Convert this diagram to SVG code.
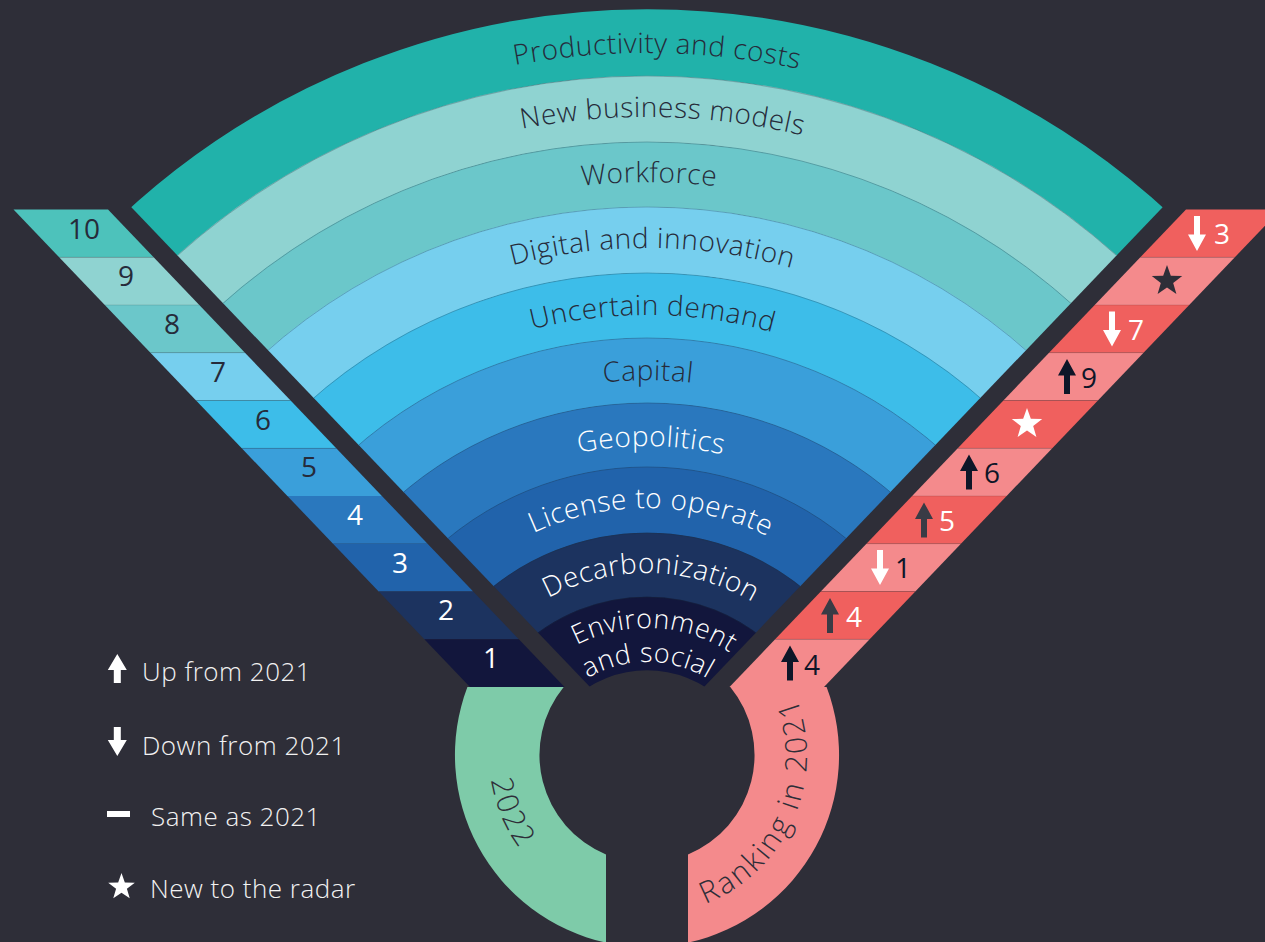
<svg xmlns="http://www.w3.org/2000/svg" xmlns:xlink="http://www.w3.org/1999/xlink" width="1265" height="942" viewBox="0 0 1265 942">
<style>
.lbl{font-family:"Open Sans","Noto Sans","Liberation Sans",sans-serif;font-size:28px;font-weight:300;letter-spacing:0.5px;text-anchor:middle}
.env{font-size:27px}
.ring{font-family:"Open Sans","Noto Sans","Liberation Sans",sans-serif;font-size:30px;font-weight:300;text-anchor:middle;fill:#2e2e38}
.dk{fill:#262b3a}
.wh{fill:#ffffff}
.num{font-family:"Open Sans","Noto Sans","Liberation Sans",sans-serif;font-size:28px;text-anchor:middle}
.leg{font-family:"Open Sans","Noto Sans","Liberation Sans",sans-serif;font-size:26px;font-weight:300;letter-spacing:0.5px;fill:#f2f2f2}
.band{fill:none}
.bline{fill:none;stroke:#1d3440;stroke-opacity:0.35;stroke-width:0.8}
.sep{stroke:#000;stroke-opacity:0.12;stroke-width:1}
.red{fill:#f0605e}
.pink{fill:#f48a8c}
</style>
<defs>
<clipPath id="fanClip"><polygon points="-114.6,-50 1408.6,-50 647,746.6"/></clipPath>
<path id="a727" d="M -80 780 A 727 727 0 0 1 1374 780"/>
<path id="a663" d="M -16 780 A 663 663 0 0 1 1310 780"/>
<path id="a598" d="M 49 780 A 598 598 0 0 1 1245 780"/>
<path id="a532" d="M 115 780 A 532 532 0 0 1 1179 780"/>
<path id="a465" d="M 182 780 A 465 465 0 0 1 1112 780"/>
<path id="a400" d="M 247 780 A 400 400 0 0 1 1047 780"/>
<path id="a334" d="M 313 780 A 334 334 0 0 1 981 780"/>
<path id="a272" d="M 375 780 A 272 272 0 0 1 919 780"/>
<path id="a207" d="M 440 780 A 207 207 0 0 1 854 780"/>
<path id="a152" d="M 495 780 A 152 152 0 0 1 799 780"/>
<path id="a118" d="M 529 780 A 118 118 0 0 1 765 780"/>
<path id="r2022" d="M 506.2 683.3 A 158 158 0 0 0 600.8 906.1"/>
<path id="rRank" d="M 688.4 909.5 A 160 160 0 0 0 788.3 679.9"/>
<path id="up" d="M0,-17.5 L9,-1 L3,-1 L3,17.5 L-3,17.5 L-3,-1 L-9,-1 Z"/>
<path id="lup" d="M0,-14.5 L9.5,1.5 L3.5,1.5 L3.5,14.5 L-3.5,14.5 L-3.5,1.5 L-9.5,1.5 Z"/>
<path id="star" d="M0,-16 L3.82,-5.26 L15.22,-4.94 L6.18,2.01 L9.4,12.94 L0,6.5 L-9.4,12.94 L-6.18,2.01 L-15.22,-4.94 L-3.82,-5.26 Z"/>
</defs>

<rect x="0" y="0" width="1265" height="942" fill="#2e2e38"/>

<!-- Fan bands -->
<g id="fan" clip-path="url(#fanClip)">
  <g id="band-productivity"><circle class="band" cx="647" cy="780" r="737.25" stroke="#21b2aa" stroke-width="67"/>
    <text class="lbl dk"><textPath href="#a727" startOffset="1152">Productivity and costs</textPath></text></g>
  <g id="band-business-models"><circle class="band" cx="647" cy="780" r="671" stroke="#8fd3d1" stroke-width="66.6"/>
    <text class="lbl dk"><textPath href="#a663" startOffset="1057">New business models</textPath></text></g>
  <g id="band-workforce"><circle class="band" cx="647" cy="780" r="605.5" stroke="#6bc7ca" stroke-width="65.6"/>
    <text class="lbl dk"><textPath href="#a598" startOffset="941">Workforce</textPath></text></g>
  <g id="band-digital"><circle class="band" cx="647" cy="780" r="540" stroke="#76cfee" stroke-width="66.6"/>
    <text class="lbl dk"><textPath href="#a532" startOffset="841">Digital and innovation</textPath></text></g>
  <g id="band-demand"><circle class="band" cx="647" cy="780" r="474.5" stroke="#3dbde9" stroke-width="65.6"/>
    <text class="lbl dk"><textPath href="#a465" startOffset="736">Uncertain demand</textPath></text></g>
  <g id="band-capital"><circle class="band" cx="647" cy="780" r="409.5" stroke="#3a9fda" stroke-width="65.6"/>
    <text class="lbl dk"><textPath href="#a400" startOffset="629">Capital</textPath></text></g>
  <g id="band-geopolitics"><circle class="band" cx="647" cy="780" r="345" stroke="#2a78be" stroke-width="64.6"/>
    <text class="lbl wh"><textPath href="#a334" startOffset="528.5">Geopolitics</textPath></text></g>
  <g id="band-license"><circle class="band" cx="647" cy="780" r="280" stroke="#2163ab" stroke-width="66.6"/>
    <text class="lbl wh"><textPath href="#a272" startOffset="431">License to operate</textPath></text></g>
  <g id="band-decarbonization"><circle class="band" cx="647" cy="780" r="215" stroke="#1c335f" stroke-width="64.6"/>
    <text class="lbl wh"><textPath href="#a207" startOffset="329">Decarbonization</textPath></text></g>
  <g id="band-environment"><circle class="band" cx="647" cy="780" r="146.5" stroke="#12163c" stroke-width="73.6"/>
    <text class="lbl env wh"><textPath href="#a152" startOffset="246">Environment</textPath></text>
    <text class="lbl env wh"><textPath href="#a118" startOffset="186">and social</textPath></text></g>
  <g id="band-lines">
    <circle class="bline" cx="647" cy="780" r="704"/>
    <circle class="bline" cx="647" cy="780" r="638"/>
    <circle class="bline" cx="647" cy="780" r="573"/>
    <circle class="bline" cx="647" cy="780" r="507"/>
    <circle class="bline" cx="647" cy="780" r="442"/>
    <circle class="bline" cx="647" cy="780" r="377"/>
    <circle class="bline" cx="647" cy="780" r="313"/>
    <circle class="bline" cx="647" cy="780" r="247"/>
    <circle class="bline" cx="647" cy="780" r="183"/>
  </g>
</g>

<!-- Left strip: 2022 ranks -->
<g id="rank-2022">
  <g id="r22-10"><polygon points="13.5,209.5 108,209.5 153.65,257.25 59.15,257.25" fill="#4dc2bb"/><text class="num dk" x="84" y="239">10</text></g>
  <g id="r22-9"><polygon points="59.15,257.25 153.65,257.25 199.3,305 104.8,305" fill="#8fd3d1"/><text class="num dk" x="126" y="286">9</text></g>
  <g id="r22-8"><polygon points="104.8,305 199.3,305 244.95,352.75 150.45,352.75" fill="#6bc7ca"/><text class="num dk" x="172" y="334">8</text></g>
  <g id="r22-7"><polygon points="150.45,352.75 244.95,352.75 290.6,400.5 196.1,400.5" fill="#76cfee"/><text class="num dk" x="218" y="382">7</text></g>
  <g id="r22-6"><polygon points="196.1,400.5 290.6,400.5 336.25,448.25 241.75,448.25" fill="#3dbde9"/><text class="num dk" x="263" y="430">6</text></g>
  <g id="r22-5"><polygon points="241.75,448.25 336.25,448.25 381.9,496 287.4,496" fill="#3a9fda"/><text class="num dk" x="309" y="477">5</text></g>
  <g id="r22-4"><polygon points="287.4,496 381.9,496 427.55,543.75 333.05,543.75" fill="#2a78be"/><text class="num wh" x="355" y="525">4</text></g>
  <g id="r22-3"><polygon points="333.05,543.75 427.55,543.75 473.2,591.5 378.7,591.5" fill="#2163ab"/><text class="num wh" x="400" y="573">3</text></g>
  <g id="r22-2"><polygon points="378.7,591.5 473.2,591.5 518.85,639.25 424.35,639.25" fill="#1c335f"/><text class="num wh" x="446" y="620">2</text></g>
  <g id="r22-1"><polygon points="424.35,639.25 518.85,639.25 564.5,687 470,687" fill="#12163c"/><text class="num wh" x="491" y="668">1</text></g>
  <g class="sep">
    <line x1="59.15" y1="257.25" x2="153.65" y2="257.25"/>
    <line x1="104.8" y1="305" x2="199.3" y2="305"/>
    <line x1="150.45" y1="352.75" x2="244.95" y2="352.75"/>
    <line x1="196.1" y1="400.5" x2="290.6" y2="400.5"/>
    <line x1="241.75" y1="448.25" x2="336.25" y2="448.25"/>
  </g>
</g>

<!-- Green ring: 2022 -->
<g id="ring-2022">
  <path d="M 470 687 L 564.5 687 L 563.7 687 A 107.5 107.5 0 0 0 606 854.4 L 606 942.6 A 192 192 0 0 1 467.4 687 Z" fill="#7ecba9"/>
  <text class="ring" letter-spacing="2"><textPath href="#r2022" startOffset="50%">2022</textPath></text>
</g>

<!-- Right strip: 2021 ranks -->
<g id="rank-2021">
  <g id="r21-1"><polygon class="red" points="1186,209.5 1280.5,209.5 1234.85,257.25 1140.35,257.25"/>
    <use href="#up" transform="translate(1197,233.4) scale(1,-1)" fill="#ffffff"/><text class="num wh" x="1222" y="244">3</text></g>
  <g id="r21-2"><polygon class="pink" points="1140.35,257.25 1234.85,257.25 1189.2,305 1094.7,305"/>
    <use href="#star" transform="translate(1167,281)" fill="#2e2e38"/></g>
  <g id="r21-3"><polygon class="red" points="1094.7,305 1189.2,305 1143.55,352.75 1049.05,352.75"/>
    <use href="#up" transform="translate(1112,329) scale(1,-1)" fill="#ffffff"/><text class="num wh" x="1136" y="340">7</text></g>
  <g id="r21-4"><polygon class="pink" points="1049.05,352.75 1143.55,352.75 1097.9,400.5 1003.4,400.5"/>
    <use href="#up" transform="translate(1067,376.6)" fill="#0e1628"/><text class="num" fill="#0e1628" x="1089" y="388">9</text></g>
  <g id="r21-5"><polygon class="red" points="1003.4,400.5 1097.9,400.5 1052.25,448.25 957.75,448.25"/>
    <use href="#star" transform="translate(1027,424)" fill="#ffffff"/></g>
  <g id="r21-6"><polygon class="pink" points="957.75,448.25 1052.25,448.25 1006.6,496 912.1,496"/>
    <use href="#up" transform="translate(969,472.1)" fill="#0e1628"/><text class="num" fill="#0e1628" x="992" y="483">6</text></g>
  <g id="r21-7"><polygon class="red" points="912.1,496 1006.6,496 960.95,543.75 866.45,543.75"/>
    <use href="#up" transform="translate(924,519.9)" fill="#3a3b45"/><text class="num wh" x="947" y="531">5</text></g>
  <g id="r21-8"><polygon class="pink" points="866.45,543.75 960.95,543.75 915.3,591.5 820.8,591.5"/>
    <use href="#up" transform="translate(880,567.6) scale(1,-1)" fill="#ffffff"/><text class="num" fill="#0e1628" x="903" y="578">1</text></g>
  <g id="r21-9"><polygon class="red" points="820.8,591.5 915.3,591.5 869.65,639.25 775.15,639.25"/>
    <use href="#up" transform="translate(830,615.4)" fill="#3a3b45"/><text class="num wh" x="854" y="627">4</text></g>
  <g id="r21-10"><polygon class="pink" points="775.15,639.25 869.65,639.25 824,687 729.5,687"/>
    <use href="#up" transform="translate(790,663.1)" fill="#0e1628"/><text class="num" fill="#0e1628" x="812" y="675">4</text></g>
  <g class="sep">
    <line x1="1140.35" y1="257.25" x2="1234.85" y2="257.25"/>
    <line x1="1094.7" y1="305" x2="1189.2" y2="305"/>
    <line x1="1049.05" y1="352.75" x2="1143.55" y2="352.75"/>
    <line x1="1003.4" y1="400.5" x2="1097.9" y2="400.5"/>
    <line x1="957.75" y1="448.25" x2="1052.25" y2="448.25"/>
    <line x1="912.1" y1="496" x2="1006.6" y2="496"/>
    <line x1="866.45" y1="543.75" x2="960.95" y2="543.75"/>
    <line x1="820.8" y1="591.5" x2="915.3" y2="591.5"/>
    <line x1="775.15" y1="639.25" x2="869.65" y2="639.25"/>
  </g>
</g>

<!-- Pink ring: ranking in 2021 -->
<g id="ring-2021">
  <path d="M 824 687 L 729.5 687 L 730.3 687 A 107.5 107.5 0 0 1 688 854.4 L 688 942.6 A 192 192 0 0 0 826.6 687 Z" fill="#f48a8c"/>
  <text class="ring" letter-spacing="2.5"><textPath href="#rRank" startOffset="50%">Ranking in 2021</textPath></text>
</g>

<!-- Legend -->
<g id="legend">
  <g id="leg-up"><use href="#lup" transform="translate(117.3,668.5)" fill="#ffffff"/><text class="leg" x="142" y="681">Up from 2021</text></g>
  <g id="leg-down"><use href="#lup" transform="translate(117.3,741.5) scale(1,-1)" fill="#ffffff"/><text class="leg" x="142" y="755">Down from 2021</text></g>
  <g id="leg-same"><rect x="107" y="811" width="23" height="6" fill="#ffffff"/><text class="leg" x="151" y="826">Same as 2021</text></g>
  <g id="leg-new"><use href="#star" transform="translate(121.5,887) scale(0.875)" fill="#ffffff"/><text class="leg" x="150" y="898">New to the radar</text></g>
</g>
</svg>
